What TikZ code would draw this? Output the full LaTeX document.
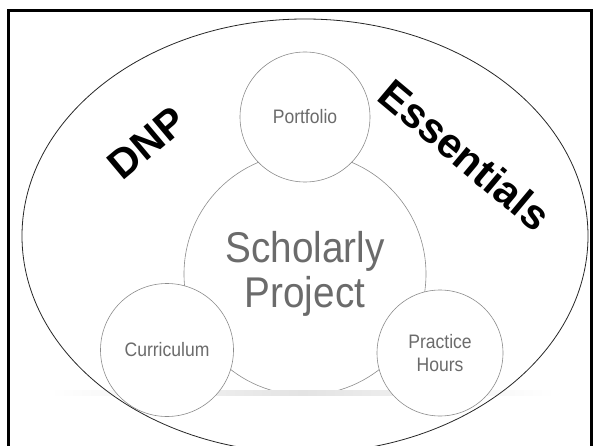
\documentclass[tikz,border=0pt]{standalone}
\usepackage{fontspec}
\setmainfont{Liberation Sans}
\newfontfamily\narrowfont[FakeStretch=0.9]{Liberation Sans}
\definecolor{ringgray}{HTML}{8C8C8C}
\definecolor{textgray}{HTML}{6B6B6B}
\begin{document}
\begin{tikzpicture}[x=1pt,y=-1pt,
  ring/.style={circle, draw=ringgray, line width=0.6pt, fill=white, inner sep=0pt,
    text=textgray, align=center, font=\narrowfont\fontsize{19.5}{23}\selectfont},
  bigword/.style={inner sep=0pt, text=black, font=\bfseries\fontsize{41}{41}\selectfont}]
\useasboundingbox (0,0) rectangle (594,446);
\clip (0,0) rectangle (594,446);
\draw[line width=3pt] (8.5,10.5) rectangle (591.5,480);
\node[ring, minimum size=242pt, font=\narrowfont\fontsize{43}{45}\selectfont] (proj) at (305,274) {Scholarly\\Project};
\shade[left color=white, right color=white, middle color=black!11] (50,390) rectangle (555,395);
\node[ring, minimum size=130pt] (port) at (305,117) {Portfolio};
\node[ring, minimum size=133pt] (curr) at (167,350) {Curriculum};
\node[ring, minimum size=126pt] (prac) at (440,353) {Practice\\Hours};
\draw[line width=0.8pt, draw=black!85] (305,236) ellipse [x radius=283pt, y radius=217pt];
\node[bigword, rotate=40] (dnp) at (147,143) {DNP};
\node[bigword, font=\bfseries\fontsize{42}{42}\selectfont, rotate=-40] (ess) at (465,155) {Essentials};
\end{tikzpicture}
\end{document}
